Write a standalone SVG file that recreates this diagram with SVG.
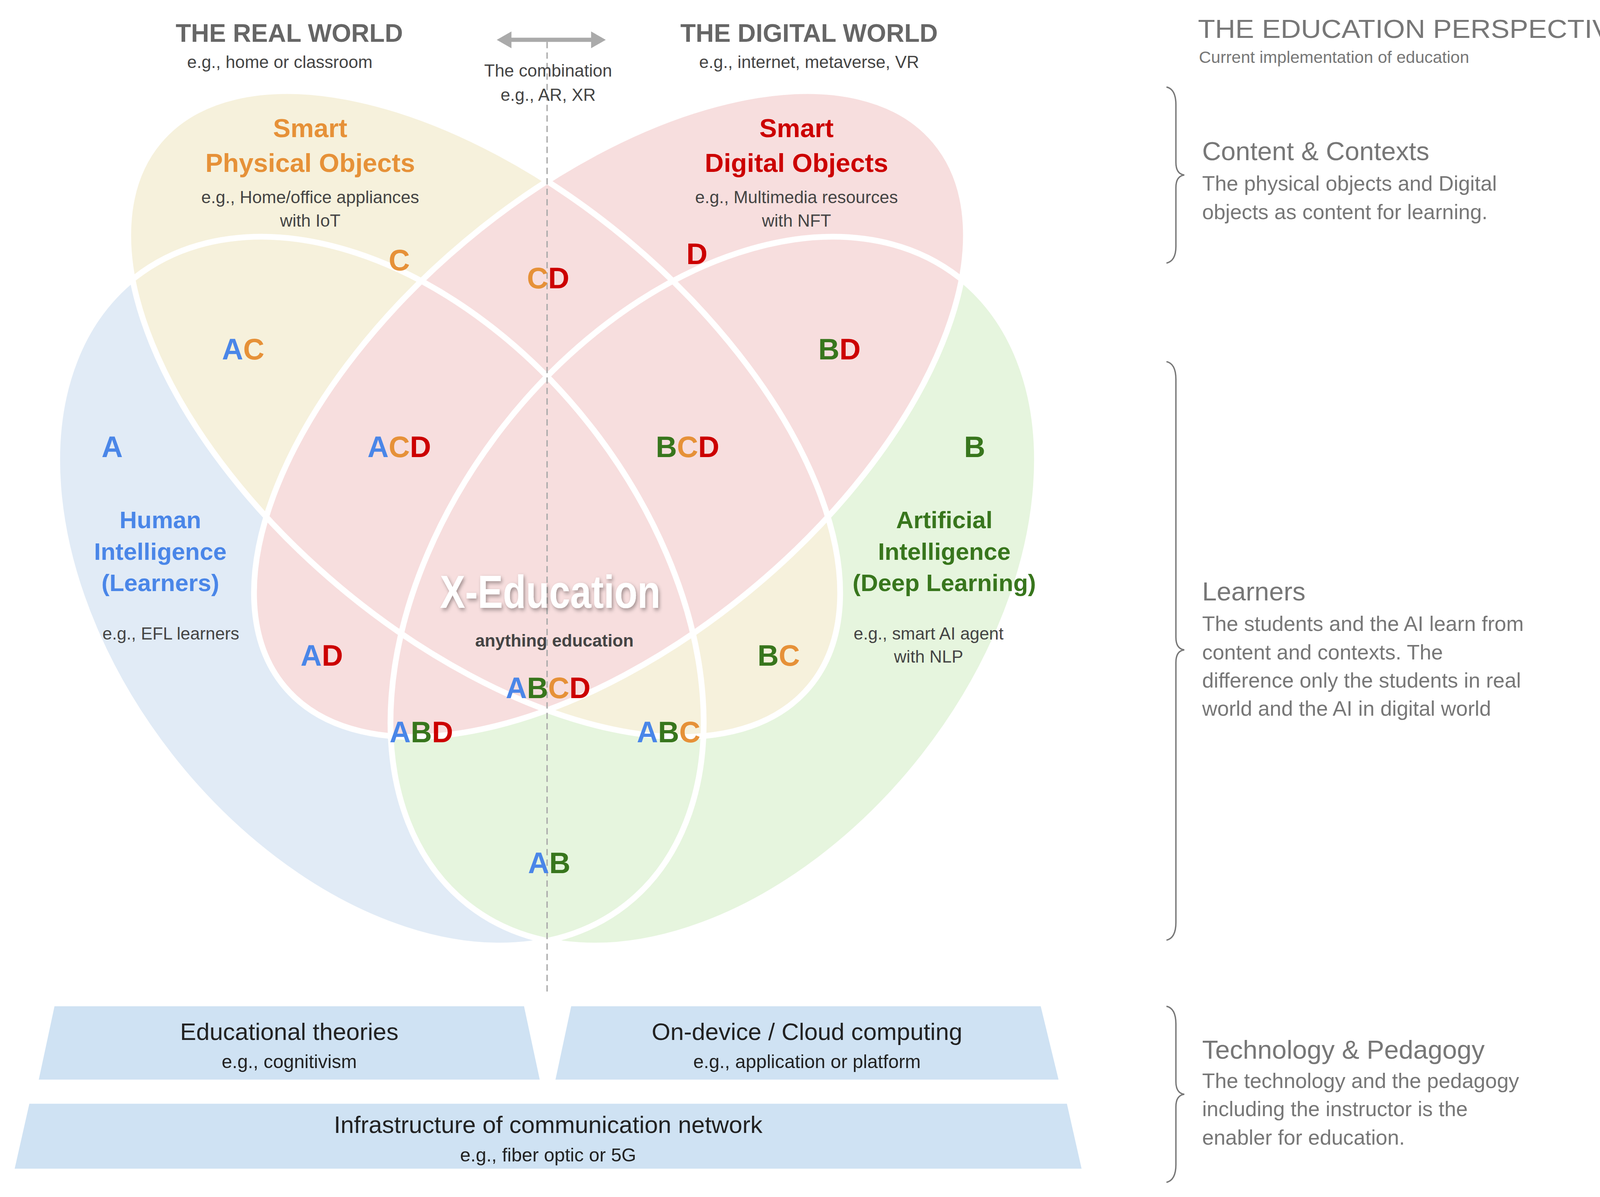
<svg xmlns="http://www.w3.org/2000/svg" width="4207" height="3064" viewBox="0 0 4207 3064">
<defs>
<style>
text{font-family:"Liberation Sans",Arial,sans-serif;text-anchor:middle}
.hd{font-weight:bold;font-size:24px;fill:#666}
.sm{font-size:16.5px;fill:#444}
.lt{font-weight:bold;font-size:28px}
.a{fill:#4a86e8}.b{fill:#38761d}.c{fill:#e69138}.d{fill:#cc0000}
.t1{font-weight:bold;font-size:25px}
.t2{font-weight:bold;font-size:23px}
.rt{text-anchor:start;fill:#777}
.rh{font-size:25px}.rb{font-size:20px}
.bx{fill:#cfe2f3}
.bt{font-size:23px;fill:#222}.bs{font-size:18px;fill:#222}
.ol{fill:none;stroke:#fff;stroke-width:5.5}
.br{fill:none;stroke:#777;stroke-width:1.3}
</style>
<filter id="sh" x="-20%" y="-50%" width="140%" height="200%"><feDropShadow dx="1.5" dy="2" stdDeviation="2" flood-color="#000" flood-opacity="0.35"/></filter>
</defs>
<rect width="4207" height="3064" fill="#fff"/>
<g transform="scale(2.683)">
<g id="venn">
<g opacity="0.55">
<ellipse id="ellA" cx="363" cy="564" rx="380" ry="255" transform="rotate(52 363 564)" fill="#c9dcf0"/>
<ellipse id="ellB" cx="681" cy="564" rx="380" ry="255" transform="rotate(-52 681 564)" fill="#d3edc4"/>
<ellipse id="ellC" cx="462" cy="395" rx="405" ry="215" transform="rotate(40 462 395)" fill="#efe6c0"/>
<ellipse id="ellD" cx="582" cy="395" rx="405" ry="215" transform="rotate(-40 582 395)" fill="#f2c4c4"/>
</g>
<ellipse class="ol" cx="363" cy="564" rx="380" ry="255" transform="rotate(52 363 564)"/>
<ellipse class="ol" cx="681" cy="564" rx="380" ry="255" transform="rotate(-52 681 564)"/>
<ellipse class="ol" cx="462" cy="395" rx="405" ry="215" transform="rotate(40 462 395)"/>
<ellipse class="ol" cx="582" cy="395" rx="405" ry="215" transform="rotate(-40 582 395)"/>
</g>
<g id="connectors">
<line x1="522" y1="40" x2="522" y2="950" stroke="#aaa" stroke-width="1.3" stroke-dasharray="6,4"/>
<line x1="484" y1="38" x2="568" y2="38" stroke="#aaa" stroke-width="4"/>
<polygon points="474,38 488,30 488,46" fill="#aaa"/>
<polygon points="578,38 564,30 564,46" fill="#aaa"/>
<path class="br" d="M1113,83 Q1122,85 1122,100 L1122,155 Q1122,166 1130,167 Q1122,168 1122,179 L1122,235 Q1122,249 1113,251"/>
<path class="br" d="M1113,345 Q1122,347 1122,362 L1122,608 Q1122,619 1130,620 Q1122,621 1122,632 L1122,880 Q1122,895 1113,897"/>
<path class="br" d="M1113,960 Q1122,962 1122,977 L1122,1032 Q1122,1043 1130,1044 Q1122,1045 1122,1056 L1122,1111 Q1122,1126 1113,1128"/>
</g>
<g id="header-real"><text class="hd" x="276" y="40">THE REAL WORLD</text><text class="sm" x="267" y="65">e.g., home or classroom</text></g>
<g id="header-comb"><text class="sm" x="523" y="73">The combination</text><text class="sm" x="523" y="96">e.g., AR, XR</text></g>
<g id="header-digital"><text class="hd" x="772" y="40">THE DIGITAL WORLD</text><text class="sm" x="772" y="65">e.g., internet, metaverse, VR</text></g>
<g id="perspective"><text class="rt rh" x="1143" y="36" textLength="412" lengthAdjust="spacingAndGlyphs">THE EDUCATION PERSPECTIVE</text><text class="rt" x="1144" y="60" font-size="16">Current implementation of education</text></g>
<g id="content-contexts"><text class="rt rh" x="1147" y="153">Content &amp; Contexts</text><text class="rt rb" x="1147" y="182">The physical objects and Digital</text><text class="rt rb" x="1147" y="209">objects as content for learning.</text></g>
<g id="learners"><text class="rt rh" x="1147" y="573">Learners</text><text class="rt rb" x="1147" y="602">The students and the AI learn from</text><text class="rt rb" x="1147" y="629">content and contexts. The</text><text class="rt rb" x="1147" y="656">difference only the students in real</text><text class="rt rb" x="1147" y="683">world and the AI in digital world</text></g>
<g id="tech-ped"><text class="rt rh" x="1147" y="1010">Technology &amp; Pedagogy</text><text class="rt rb" x="1147" y="1038">The technology and the pedagogy</text><text class="rt rb" x="1147" y="1065">including the instructor is the</text><text class="rt rb" x="1147" y="1092">enabler for education.</text></g>
<g id="nodeC"><text class="t1 c" x="296" y="131">Smart</text><text class="t1 c" x="296" y="164">Physical Objects</text><text class="sm" x="296" y="194">e.g., Home/office appliances</text><text class="sm" x="296" y="216">with IoT</text><text class="lt c" x="381" y="258">C</text></g>
<g id="nodeD"><text class="t1 d" x="760" y="131">Smart</text><text class="t1 d" x="760" y="164">Digital Objects</text><text class="sm" x="760" y="194">e.g., Multimedia resources</text><text class="sm" x="760" y="216">with NFT</text><text class="lt d" x="665" y="252">D</text></g>
<g id="nodeA"><text class="lt a" x="107" y="436">A</text><text class="t2 a" x="153" y="504">Human</text><text class="t2 a" x="153" y="534">Intelligence</text><text class="t2 a" x="153" y="564">(Learners)</text><text class="sm" x="163" y="610">e.g., EFL learners</text></g>
<g id="nodeB"><text class="lt b" x="930" y="436">B</text><text class="t2 b" x="901" y="504">Artificial</text><text class="t2 b" x="901" y="534">Intelligence</text><text class="t2 b" x="901" y="564">(Deep Learning)</text><text class="sm" x="886" y="610">e.g., smart AI agent</text><text class="sm" x="886" y="632">with NLP</text></g>
<g id="regions">
<text class="lt" x="523" y="275"><tspan class="c">C</tspan><tspan class="d">D</tspan></text>
<text class="lt" x="232" y="343"><tspan class="a">A</tspan><tspan class="c">C</tspan></text>
<text class="lt" x="801" y="343"><tspan class="b">B</tspan><tspan class="d">D</tspan></text>
<text class="lt" x="381" y="436"><tspan class="a">A</tspan><tspan class="c">C</tspan><tspan class="d">D</tspan></text>
<text class="lt" x="656" y="436"><tspan class="b">B</tspan><tspan class="c">C</tspan><tspan class="d">D</tspan></text>
<text class="lt" x="307" y="635"><tspan class="a">A</tspan><tspan class="d">D</tspan></text>
<text class="lt" x="743" y="635"><tspan class="b">B</tspan><tspan class="c">C</tspan></text>
<text class="lt" x="523" y="666"><tspan class="a">A</tspan><tspan class="b">B</tspan><tspan class="c">C</tspan><tspan class="d">D</tspan></text>
<text class="lt" x="402" y="708"><tspan class="a">A</tspan><tspan class="b">B</tspan><tspan class="d">D</tspan></text>
<text class="lt" x="638" y="708"><tspan class="a">A</tspan><tspan class="b">B</tspan><tspan class="c">C</tspan></text>
<text class="lt" x="524" y="833"><tspan class="a">A</tspan><tspan class="b">B</tspan></text>
</g>
<g id="x-education"><text x="525" y="580" font-family="DejaVu Sans Condensed,DejaVu Sans,sans-serif" font-stretch="condensed" font-weight="bold" font-size="44" fill="#fff" filter="url(#sh)" transform="translate(525 580) scale(0.82 1) translate(-525 -580)">X-Education</text><text x="529" y="617" font-weight="bold" font-size="16.5" fill="#444">anything education</text></g>
<g id="theories"><polygon class="bx" points="52,960 500,960 515,1030 37,1030"/><text class="bt" x="276" y="992">Educational theories</text><text class="bs" x="276" y="1019">e.g., cognitivism</text></g>
<g id="computing"><polygon class="bx" points="545,960 993,960 1010,1030 530,1030"/><text class="bt" x="770" y="992">On-device / Cloud computing</text><text class="bs" x="770" y="1019">e.g., application or platform</text></g>
<g id="infrastructure"><polygon class="bx" points="28,1053 1018,1053 1032,1115 14,1115"/><text class="bt" x="523" y="1081">Infrastructure of communication network</text><text class="bs" x="523" y="1108">e.g., fiber optic or 5G</text></g>
</g>
</svg>
